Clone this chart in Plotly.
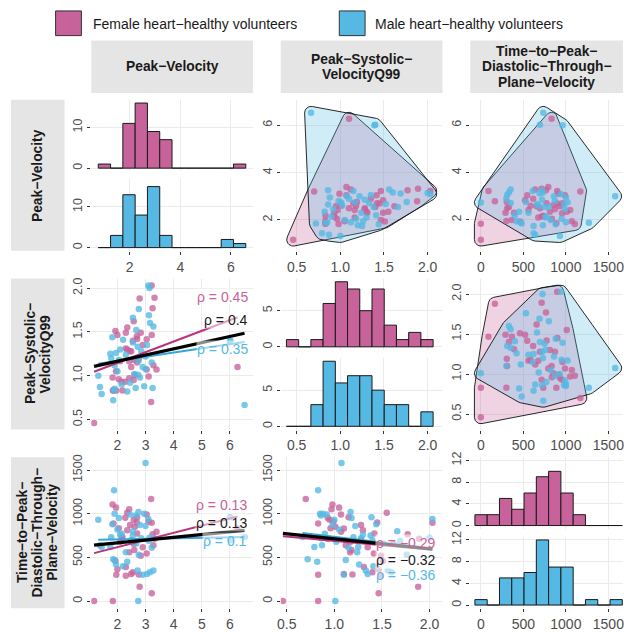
import math
import numpy as np
import plotly.graph_objects as go

W, H = 624, 632

group_names = ["Female heart−healthy volunteers", "Male heart−healthy volunteers"]
var_names = ["Peak−Velocity", "Peak−Systolic−VelocityQ99", "Time−to−Peak−Diastolic−Through−Plane−Velocity"]

# ---------------- data ----------------
f_pv = [1.17, 1.84, 3.22, 2.79, 1.96, 2.49, 2.76, 2.55, 2.30, 2.00, 2.30, 1.93, 2.83, 3.04, 2.42,
        2.60, 2.90, 3.28, 2.58, 2.10, 2.49, 3.32, 2.15, 2.18, 3.25, 2.70, 3.39, 2.35, 6.27, 2.05,
        2.62, 2.45, 1.86, 3.22, 3.11, 2.58, 2.69, 2.28, 3.04, 2.35, 2.42, 1.95, 2.70, 3.20, 1.83]
f_psv = [0.46, 0.83, 1.465, 1.88, 0.83, 1.10, 1.19, 1.40, 1.49, 1.465, 1.31, 1.51, 1.49, 1.415, 1.165,
         1.18, 1.35, 1.12, 1.62, 1.165, 1.28, 1.89, 0.93, 0.83, 1.77, 1.42, 1.07, 1.30, 1.10, 0.96,
         1.01, 1.28, 0.83, 2.03, 0.99, 0.95, 1.45, 0.93, 1.07, 1.55, 0.97, 1.05, 1.15, 0.70, 0.98]
f_ttp = [0, 0, 90, 165, 300, 310, 305, 330, 290, 365, 390, 460, 520, 545, 560,
         585, 615, 640, 656, 676, 695, 715, 715, 734, 766, 773, 793, 812, 832, 835,
         852, 871, 888, 898, 910, 930, 900, 955, 990, 1010, 1050, 1070, 960, 1170, 1105]

m_pv = [3.00, 1.88, 2.74, 6.52, 6.02, 6.00, 3.14, 3.10, 2.76, 3.12, 2.55, 3.16, 3.28, 2.67, 1.82,
        2.20, 2.55, 1.75, 1.95, 2.10, 2.72, 2.85, 3.05, 2.30, 1.78, 2.05, 3.22, 2.90, 3.00, 1.90,
        2.75, 1.32, 2.00, 2.80, 2.60, 1.38, 1.90, 2.15, 2.35, 2.65, 2.95, 3.25, 2.45, 1.44, 1.85]
m_psv = [1.075, 0.83, 1.01, 0.665, 1.40, 1.39, 2.00, 2.03, 1.76, 1.69, 1.66, 1.60, 1.56, 1.52, 1.44,
         1.41, 1.38, 1.25, 1.26, 1.30, 1.33, 1.28, 1.35, 1.24, 1.20, 1.18, 1.15, 1.10, 1.22, 1.12,
         1.17, 1.00, 1.05, 0.98, 1.02, 0.87, 0.85, 0.90, 0.82, 0.86, 0.88, 0.86, 0.92, 0.79, 0.72]
m_ttp = [1580, 1270, 0, 734, 695, 961, 725, 940, 530, 690, 800, 330, 350, 660, 880,
         400, 750, 620, 420, 760, 350, 720, 310, 560, 730, 950, 610, 300, 860, 470,
         1020, 930, 820, 870, 680, 640, 1000, 770, 450, 980, 1000, 720, 990, 620, 480]

# histogram counts (12 bins each)
pv_bin_start, pv_bin_width = 0.758, 0.486
f_pv_counts = [1, 0, 11, 16, 9, 7, 0, 0, 0, 0, 0, 1]
m_pv_counts = [0, 3, 13, 8, 15, 3, 0, 0, 0, 0, 2, 1]
psv_bin_start, psv_bin_width = 0.383, 0.140
f_psv_counts = [1, 0, 1, 6, 9, 8, 5, 8, 3, 1, 2, 1]
m_psv_counts = [0, 0, 3, 9, 6, 7, 7, 5, 3, 3, 0, 2]
ttp_bin_start, ttp_bin_width = -70, 144.5
f_ttp_counts = [2, 2, 5, 3, 6, 9, 10, 6, 2, 0, 0, 0]
m_ttp_counts = [1, 0, 5, 5, 6, 12, 7, 7, 0, 1, 0, 1]

# correlation labels (female, all, male)
rho_pv_psv = ["ρ = 0.45", "ρ = 0.4", "ρ = 0.35"]
rho_pv_ttp = ["ρ = 0.13", "ρ = 0.13", "ρ = 0.1"]
rho_psv_ttp = ["ρ = −0.29", "ρ = −0.32", "ρ = −0.36"]

# ---------------- styling ----------------
F_COL = "#C8629A"
M_COL = "#55B9E3"
F_LINE = "#B8347D"
M_LINE = "#36A6DA"
F_FILL = "rgba(201,98,154,0.28)"
M_FILL = "rgba(85,185,227,0.28)"
GRID = "#EBEBEB"
TXT = "#1A1A1A"
TICK_TXT = "#4D4D4D"
FONT = "Liberation Sans, Arial, sans-serif"

COLS = [(88, 251), (279, 442), (470, 624)]
ROWS = [(95, 248), (276, 429), (457, 610)]
SUBGAP = 8

def xd(a, b):
    return [a / W, b / W]

def yd(top, bottom):
    return [1 - bottom / H, 1 - top / H]

layout = dict(width=W, height=H, margin=dict(l=0, r=0, t=0, b=0),
              paper_bgcolor="white", plot_bgcolor="white", showlegend=False,
              font=dict(family=FONT), shapes=[], annotations=[])
traces = []
counter = [0]

def fmt(v, dec):
    return f"{v:.{dec}f}"

def new_axes(xpx, ypx, xr, yr, xticks, yticks, xdec=0, ydec=0, xlabels=True, ylabels=True):
    counter[0] += 1
    k = "" if counter[0] == 1 else str(counter[0])
    common = dict(showgrid=True, gridcolor=GRID, gridwidth=1, zeroline=False, showline=False,
                  ticklen=3, tickwidth=1, tickcolor="#333333", fixedrange=True,
                  ticklabeloverflow="allow")
    layout["xaxis" + k] = dict(domain=xd(*xpx), range=xr, anchor="y" + k,
                               tickvals=xticks, ticktext=[fmt(t, xdec) for t in xticks],
                               ticks="outside" if xlabels else "", showticklabels=xlabels,
                               tickfont=dict(size=14, color=TICK_TXT, family=FONT), **common)
    layout["yaxis" + k] = dict(domain=yd(*ypx), range=yr, anchor="x" + k,
                               tickvals=yticks, ticktext=[fmt(t, ydec) for t in yticks],
                               ticks="outside" if ylabels else "", showticklabels=ylabels,
                               tickangle=-90,
                               tickfont=dict(size=12.5, color=TICK_TXT, family=FONT), **common)
    return "x" + k, "y" + k

def convex_hull(pts):
    pts = sorted(set(pts))
    if len(pts) <= 2:
        return pts
    def cross(o, a, b):
        return (a[0] - o[0]) * (b[1] - o[1]) - (a[1] - o[1]) * (b[0] - o[0])
    lower = []
    for p in pts:
        while len(lower) >= 2 and cross(lower[-2], lower[-1], p) <= 0:
            lower.pop()
        lower.append(p)
    upper = []
    for p in reversed(pts):
        while len(upper) >= 2 and cross(upper[-2], upper[-1], p) <= 0:
            upper.pop()
        upper.append(p)
    return lower[:-1] + upper[:-1]

def rounded_hull(xs, ys, xr, yr, xpx, ypx, r=6.5):
    sx = (xpx[1] - xpx[0]) / (xr[1] - xr[0])
    sy = (ypx[1] - ypx[0]) / (yr[1] - yr[0])
    P = [(x * sx, y * sy) for x, y in zip(xs, ys)]
    hull = convex_hull(P)
    n = len(hull)
    out = []
    for i in range(n):
        pp, p, pn = hull[i - 1], hull[i], hull[(i + 1) % n]
        e1 = (p[0] - pp[0], p[1] - pp[1])
        e2 = (pn[0] - p[0], pn[1] - p[1])
        a1 = math.atan2(-e1[0], e1[1])
        a2 = math.atan2(-e2[0], e2[1])
        while a2 < a1:
            a2 += 2 * math.pi
        steps = max(2, int((a2 - a1) / 0.15) + 1)
        for t in np.linspace(a1, a2, steps):
            out.append((p[0] + r * math.cos(t), p[1] + r * math.sin(t)))
    out.append(out[0])
    hx = [q[0] / sx for q in out]
    hy = [q[1] / sy for q in out]
    return hx, hy

def add_hist(xpx, ypx, counts_f, counts_m, start, width, xr, ymax, xticks, yticks, xdec):
    top, bottom = ypx
    h = (bottom - top - SUBGAP) / 2
    yr = [-0.05 * ymax, 1.05 * ymax]
    centers = [start + width * (i + 0.5) for i in range(len(counts_f))]
    for j, (cnts, col) in enumerate([(counts_f, F_COL), (counts_m, M_COL)]):
        sub = (top, top + h) if j == 0 else (bottom - h, bottom)
        xa, ya = new_axes(xpx, sub, xr, yr, xticks, yticks, xdec=xdec, xlabels=(j == 1))
        traces.append(go.Bar(x=centers, y=cnts, width=width, xaxis=xa, yaxis=ya,
                             marker=dict(color=col, line=dict(color="#1A1A1A", width=1)),
                             hoverinfo="skip"))

def add_points(xa, ya, fx, fy, mx, my):
    traces.append(go.Scatter(x=fx, y=fy, mode="markers", xaxis=xa, yaxis=ya, hoverinfo="skip",
                             marker=dict(color=F_COL, size=6.5, opacity=0.78, line=dict(width=0))))
    traces.append(go.Scatter(x=mx, y=my, mode="markers", xaxis=xa, yaxis=ya, hoverinfo="skip",
                             marker=dict(color=M_COL, size=6.5, opacity=0.78, line=dict(width=0))))

def add_hull_panel(xpx, ypx, xr, yr, xticks, yticks, xdec, ydec, fx, fy, mx, my):
    xa, ya = new_axes(xpx, ypx, xr, yr, xticks, yticks, xdec=xdec, ydec=ydec)
    for gx, gy, fill in [(fx, fy, F_FILL), (mx, my, M_FILL)]:
        hx, hy = rounded_hull(gx, gy, xr, yr, xpx, ypx)
        traces.append(go.Scatter(x=hx, y=hy, mode="lines", fill="toself", fillcolor=fill,
                                 line=dict(color="#111111", width=0.9), xaxis=xa, yaxis=ya,
                                 hoverinfo="skip"))
    add_points(xa, ya, fx, fy, mx, my)

def fit(x, y):
    b, a = np.polyfit(np.asarray(x, float), np.asarray(y, float), 1)
    xs = np.array([min(x), max(x)], float)
    return xs, a + b * xs

def add_reg_panel(xpx, ypx, xr, yr, xticks, yticks, xdec, ydec, fx, fy, mx, my, labels, lab_right, lab_ys):
    xa, ya = new_axes(xpx, ypx, xr, yr, xticks, yticks, xdec=xdec, ydec=ydec)
    add_points(xa, ya, fx, fy, mx, my)
    for gx, gy, col, w in [(fx, fy, F_LINE, 2), (mx, my, M_LINE, 2), (fx + mx, fy + my, "#000000", 3.2)]:
        lx, ly = fit(gx, gy)
        traces.append(go.Scatter(x=lx, y=ly, mode="lines", line=dict(color=col, width=w),
                                 xaxis=xa, yaxis=ya, hoverinfo="skip"))
    for text, yy, col in zip(labels, lab_ys, [F_COL, TXT, M_COL]):
        layout["annotations"].append(dict(text=text, x=lab_right / W, y=1 - yy / H, xref="paper",
                                          yref="paper", xanchor="right", yanchor="middle",
                                          showarrow=False, bgcolor="rgba(255,255,255,0.55)",
                                          borderpad=0, font=dict(size=14, color=col, family=FONT)))

# axis ranges (layout)
c1_hist_x = [0.482, 6.875]
c1_sc_x = [1.072, 6.82]
c2_up_x = [0.318, 2.17]
c2_low_x = [0.4375, 2.135]
c3_x = [-125, 1672]
r1_sc_y = [0.696, 7.07]
r2_c1_y = [0.385, 2.109]
r2_c3_y = [0.306, 2.194]
r3_y = [-82.5, 1647]

# row 1
add_hist(COLS[0], ROWS[0], f_pv_counts, m_pv_counts, pv_bin_start, pv_bin_width, c1_hist_x,
         max(max(f_pv_counts), max(m_pv_counts)), [2, 4, 6], [0, 10], 0)
add_hull_panel(COLS[1], ROWS[0], c2_up_x, r1_sc_y, [0.5, 1.0, 1.5, 2.0], [2, 4, 6], 1, 0,
               f_psv, f_pv, m_psv, m_pv)
add_hull_panel(COLS[2], ROWS[0], c3_x, r1_sc_y, [0, 500, 1000, 1500], [2, 4, 6], 0, 0,
               f_ttp, f_pv, m_ttp, m_pv)
# row 2
add_reg_panel(COLS[0], ROWS[1], c1_sc_x, r2_c1_y, [2, 3, 4, 5, 6], [0.5, 1.0, 1.5, 2.0], 0, 1,
              f_pv, f_psv, m_pv, m_psv, rho_pv_psv, 247, [295, 317.7, 347.3])
add_hist(COLS[1], ROWS[1], f_psv_counts, m_psv_counts, psv_bin_start, psv_bin_width, c2_up_x,
         max(max(f_psv_counts), max(m_psv_counts)), [0.5, 1.0, 1.5, 2.0], [0, 5], 1)
add_hull_panel(COLS[2], ROWS[1], c3_x, r2_c3_y, [0, 500, 1000, 1500], [0.5, 1.0, 1.5, 2.0], 0, 1,
               f_ttp, f_psv, m_ttp, m_psv)
# row 3
add_reg_panel(COLS[0], ROWS[2], c1_sc_x, r3_y, [2, 3, 4, 5, 6], [0, 500, 1000, 1500], 0, 0,
              f_pv, f_ttp, m_pv, m_ttp, rho_pv_ttp, 246, [505, 524, 542.3])
add_reg_panel(COLS[1], ROWS[2], c2_low_x, r3_y, [0.5, 1.0, 1.5, 2.0], [0, 500, 1000, 1500], 1, 0,
              f_psv, f_ttp, m_psv, m_ttp, rho_psv_ttp, 436, [544, 560.7, 576.7])
add_hist(COLS[2], ROWS[2], f_ttp_counts, m_ttp_counts, ttp_bin_start, ttp_bin_width, c3_x,
         max(max(f_ttp_counts), max(m_ttp_counts)), [0, 500, 1000, 1500], [0, 4, 8, 12], 0)

# ---------------- strips ----------------
STRIP = "#E5E5E5"
col_lines = [["Peak−Velocity"], ["Peak−Systolic−", "VelocityQ99"],
             ["Time−to−Peak−", "Diastolic−Through−", "Plane−Velocity"]]
LS = 15.5
for (x0, x1), lines in zip(COLS, col_lines):
    layout["shapes"].append(dict(type="rect", xref="paper", yref="paper", x0=x0 / W, x1=x1 / W,
                                 y0=1 - 88 / H, y1=1 - 35 / H, fillcolor=STRIP, line=dict(width=0),
                                 layer="below"))
    n = len(lines)
    for i, t in enumerate(lines):
        yc = 61.5 + (i - (n - 1) / 2) * LS
        layout["annotations"].append(dict(text="<b>" + t + "</b>", x=(x0 + x1) / 2 / W, y=1 - yc / H,
                                          xref="paper", yref="paper", showarrow=False,
                                          xanchor="center", yanchor="middle",
                                          font=dict(size=13.8, color=TXT, family=FONT)))
for (y0, y1), lines in zip(ROWS, col_lines):
    layout["shapes"].append(dict(type="rect", xref="paper", yref="paper", x0=7 / W, x1=61 / W,
                                 y0=1 - y1 / H, y1=1 - y0 / H, fillcolor=STRIP, line=dict(width=0),
                                 layer="below"))
    n = len(lines)
    for i, t in enumerate(lines):
        xc = 34 + (i - (n - 1) / 2) * LS
        layout["annotations"].append(dict(text="<b>" + t + "</b>", x=xc / W, y=1 - (y0 + y1) / 2 / H,
                                          xref="paper", yref="paper", showarrow=False, textangle=-90,
                                          xanchor="center", yanchor="middle",
                                          font=dict(size=13.8, color=TXT, family=FONT)))

# ---------------- legend ----------------
for (kx, tx), name, col in zip([(52, 88), (338, 372)], group_names, [F_COL, M_COL]):
    layout["shapes"].append(dict(type="rect", xref="paper", yref="paper", x0=kx / W, x1=(kx + 26) / W,
                                 y0=1 - 30 / H, y1=1 - 5 / H, fillcolor=col,
                                 line=dict(color="#333333", width=1)))
    layout["annotations"].append(dict(text=name, x=tx / W, y=1 - 18 / H, xref="paper", yref="paper",
                                      showarrow=False, xanchor="left", yanchor="middle",
                                      font=dict(size=14, color=TXT, family=FONT)))

fig = go.Figure(data=traces, layout=layout)
fig.write_html("out.html", config={"displayModeBar": False, "staticPlot": False})

with open("out.html", "r", encoding="utf-8") as fh:
    html = fh.read()
html = html.replace("<head>", "<head><style>html,body{margin:0;padding:0;overflow:hidden;}</style>", 1)
with open("out.html", "w", encoding="utf-8") as fh:
    fh.write(html)
